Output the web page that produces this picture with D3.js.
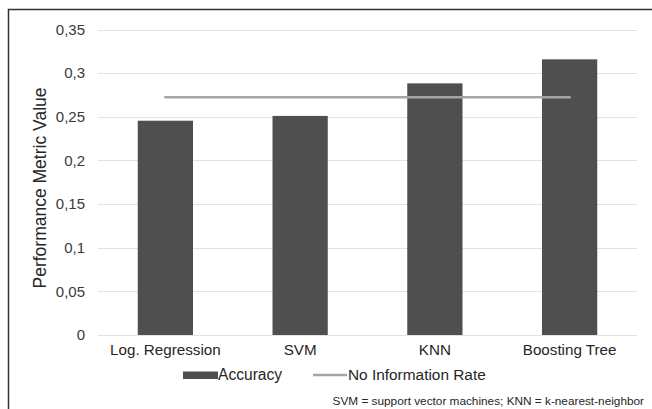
<!DOCTYPE html>
<html><head><meta charset="utf-8">
<script src="https://cdn.jsdelivr.net/npm/d3@7"></script>
<style>body{margin:0;background:#fff;}svg{display:block;font-family:"Liberation Sans",Arial,sans-serif;}</style>
</head><body><svg id="c" width="652" height="409"></svg>
<script>
const categories = ["Log. Regression","SVM","KNN","Boosting Tree"];
const accuracy = [0.2455, 0.251, 0.2883, 0.3158];
const noInfoRate = [0.2723, 0.2723, 0.2723, 0.2723];
const yTicks = [0,0.05,0.1,0.15,0.2,0.25,0.3,0.35];
const yTickLabels = ["0","0,05","0,1","0,15","0,2","0,25","0,3","0,35"];
const seriesNames = ["Accuracy","No Information Rate"];
const footnote = "SVM = support vector machines; KNN = k-nearest-neighbor";

const svg = d3.select("#c");
const m = {l:98, r:652-637, t:29.5, b:409-335};
const W = 652, H = 409;
const x = d3.scaleBand().domain(categories).range([m.l, W-m.r]).paddingInner(0.59).paddingOuter(0.295);
const y = d3.scaleLinear().domain([0,0.35]).range([H-m.b, m.t]);
const FF = "Liberation Sans, Arial, sans-serif";

// frame
svg.append("path").attr("d", `M8.5,409 V9.5 H652`).attr("fill","none").attr("stroke","#333").attr("stroke-width",1.5);

// grid
svg.append("g").selectAll("line").data(yTicks).join("line")
  .attr("x1", m.l).attr("x2", W-m.r)
  .attr("y1", d=>Math.round(y(d))+0.5).attr("y2", d=>Math.round(y(d))+0.5)
  .attr("stroke","#e2e2e2").attr("stroke-width",1.2);

// y axis
const ya = svg.append("g").attr("transform",`translate(${m.l},0)`)
  .call(d3.axisLeft(y).tickValues(yTicks).tickFormat((d,i)=>yTickLabels[i]).tickSize(0).tickPadding(13));
ya.select(".domain").remove();
ya.selectAll("text").attr("font-size",15).attr("fill","#3a3a3a").attr("font-family",FF);

// bars
svg.append("g").selectAll("rect").data(accuracy).join("rect")
  .attr("x",(d,i)=>x(categories[i])).attr("width",x.bandwidth())
  .attr("y",d=>y(d)).attr("height",d=>y(0)-y(d)).attr("fill","#4f4f4f");

// no information rate line
const line = d3.line().x((d,i)=>x(categories[i])+x.bandwidth()/2).y(d=>y(d));
svg.append("path").datum(noInfoRate).attr("d",line).attr("fill","none")
  .attr("stroke","#a5a5a5").attr("stroke-width",2.5).attr("stroke-linecap","round");

// x axis
const xa = svg.append("g").attr("transform",`translate(0,${y(0)})`)
  .call(d3.axisBottom(x).tickSize(0).tickPadding(9));
xa.select(".domain").remove();
xa.selectAll("text").attr("font-size",15.2).attr("fill","#262626").attr("font-family",FF);

// y title
svg.append("text").attr("transform",`translate(46,188) rotate(-90)`)
  .attr("text-anchor","middle").attr("font-size",17.5).attr("fill","#262626")
  .text("Performance Metric Value");

// legend
const lg = svg.append("g");
lg.append("rect").attr("x",183).attr("y",371.5).attr("width",35).attr("height",7.5).attr("fill","#4f4f4f");
lg.append("text").attr("x",218).attr("y",379.5).attr("font-size",15.6).attr("fill","#262626").text(seriesNames[0]);
lg.append("line").attr("x1",313).attr("x2",347).attr("y1",375).attr("y2",375).attr("stroke","#a5a5a5").attr("stroke-width",2.5);
lg.append("text").attr("x",348).attr("y",379.5).attr("font-size",15.4).attr("fill","#262626").text(seriesNames[1]);

// footnote
svg.append("text").attr("x",644).attr("y",405).attr("text-anchor","end").attr("font-size",11.8).attr("fill","#262626").text(footnote);
</script></body></html>
